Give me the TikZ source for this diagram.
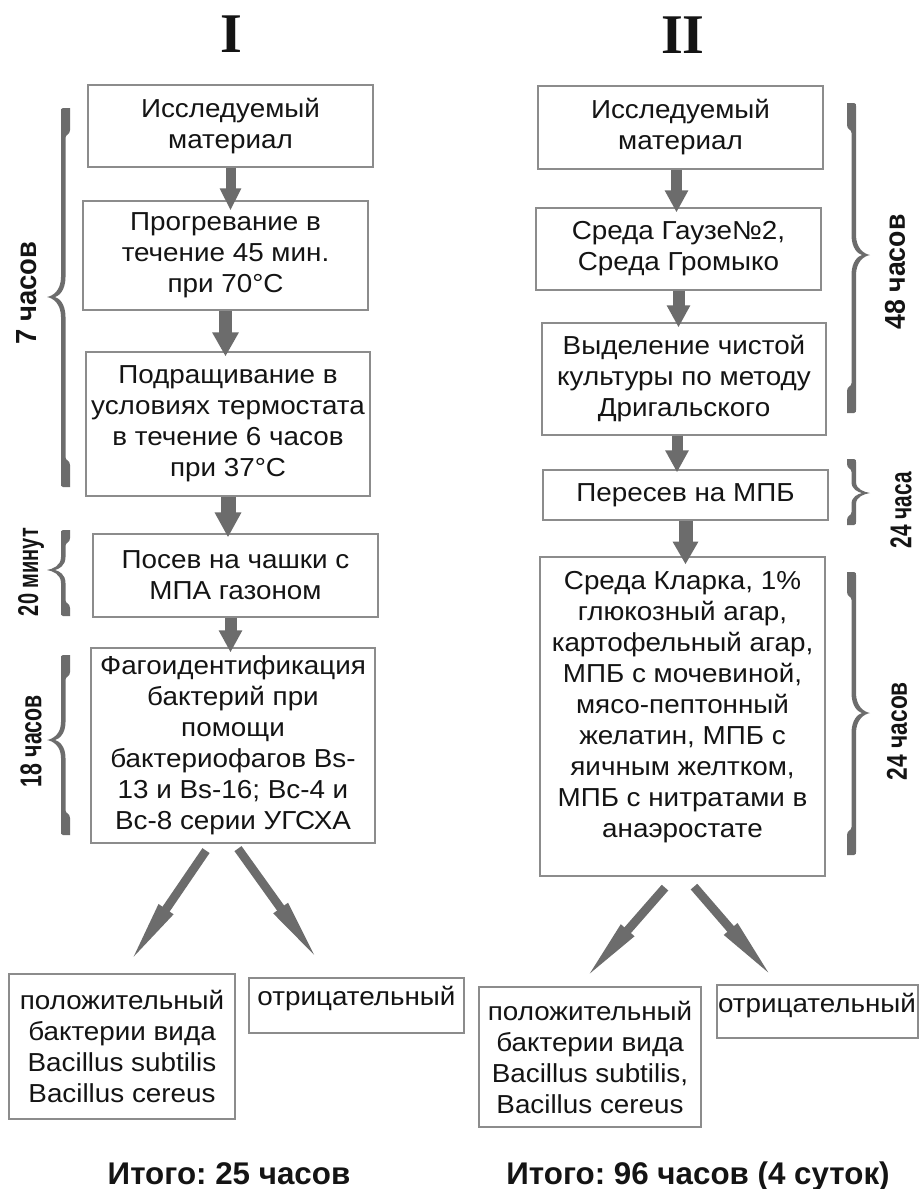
\documentclass[tikz,border=0pt]{standalone}
\usepackage{fontspec}
\setmainfont{Liberation Sans}
\newfontfamily\boxfont{Liberation Sans}[FakeStretch=1.07]
\newfontfamily\titlefont{Liberation Serif}
\usetikzlibrary{arrows.meta,calc}
\newdimen\PX \PX=0.75pt
\frenchspacing
\definecolor{agray}{RGB}{108,108,108}
\definecolor{bgray}{RGB}{140,140,140}
\definecolor{tblack}{RGB}{20,20,20}
% brace: #1 stem x, #2 top, #3 tip y, #4 bottom, #5 direction (1 = tip left, -1 = tip right), #6 end length, #7 tip curve
\newcommand\mybrace[7]{%
\fill[agray, shift={(#1,0)}, xscale=#5]
 (0,#2+3) .. controls (0,#2+1) .. (2,#2) -- (9,#2) -- (9,#2+#6-8)
 .. controls (9,#2+#6-3) and (4.5,#2+#6-4) .. (4.5,#2+#6)
 -- (4.5,#3-#7) .. controls (4.5,#3-#7/3) and (-2,#3-1) .. (-6,#3)
 .. controls (-2,#3+1) and (4.5,#3+#7/3) .. (4.5,#3+#7)
 -- (4.5,#4-#6) .. controls (4.5,#4-#6+4) and (9,#4-#6+3) .. (9,#4-#6+8)
 -- (9,#4) -- (2,#4) .. controls (0,#4-1) .. (0,#4-3)
 -- (0,#3+#7) .. controls (0,#3+#7/3) and (-8,#3+1) .. (-14,#3)
 .. controls (-8,#3-1) and (0,#3-#7/3) .. (0,#3-#7) -- cycle;}
\tikzset{
 box/.style={draw=bgray, line width=1.2\PX, align=center, inner sep=0pt, text=tblack,
   font=\boxfont\fontsize{19.5pt}{23.25pt}\selectfont},
 plain/.style={align=center, inner sep=0pt, text=tblack,
   font=\boxfont\fontsize{19.5pt}{23.25pt}\selectfont},
 varrow/.style n args={4}{draw=agray, line width=#1, -{Triangle[width=#2,length=#3]}, shorten >=#4},
 darrow/.style={draw=agray, line width=6.5pt, -{Triangle[width=11.5pt,length=52pt]}},
 tlabel/.style={rotate=90, inner sep=0pt, text=tblack, font=\bfseries},
 title/.style={inner sep=0pt, anchor=base, text=tblack, font=\titlefont\bfseries\fontsize{42pt}{48pt}\selectfont},
 total/.style={inner sep=0pt, anchor=base, text=tblack, font=\bfseries\fontsize{23.5pt}{27pt}\selectfont}
}
\begin{document}
\begin{tikzpicture}[x=0.75pt, y=-0.75pt]
\useasboundingbox (0,0) rectangle (919,1189);
\fill[white] (0,0) rectangle (919,1189);

% titles
\node[title] (t1) at (231,52) {I};
\node[title] (t2) at (683,53) {II};

% left column
\node[box, minimum width=285\PX, minimum height=82\PX] (b1) at (230.5,126) {Исследуемый\\материал};
\node[box, minimum width=285\PX, minimum height=109\PX] (b2) at (225.5,255.5) {Прогревание в\\течение 45 мин.\\при 70°C};
\node[box, minimum width=284\PX, minimum height=144\PX] (b3) at (228,424) {Подращивание в\\условиях термостата\\в течение 6 часов\\при 37°C};
\node[box, minimum width=285\PX, minimum height=83\PX] (b4) at (235.5,575.5) {Посев на чашки с\\МПА газоном};
\node[box, minimum width=284\PX, minimum height=195\PX] (b5) at (233,745.5) {Фагоидентификация\\бактерий при\\помощи\\бактериофагов Bs-\\13 и Bs-16; Bc-4 и\\Bc-8 серии УГСХА};
\node[box, minimum width=226\PX, minimum height=145\PX] (bl1) at (122,1046.5) {положительный\\бактерии вида\\Bacillus subtilis\\Bacillus cereus};
\node[box, minimum width=215\PX, minimum height=55\PX] (bl2) at (356.5,1005.5) {};
\node[plain, anchor=base] (bl2t) at (356.5,1005) {отрицательный};

% right column
\node[box, minimum width=285\PX, minimum height=83\PX] (r1) at (680.5,127.5) {Исследуемый\\материал};
\node[box, minimum width=285\PX, minimum height=82\PX] (r2) at (678.5,249) {Среда Гаузе№2,\\Среда Громыко};
\node[box, minimum width=284\PX, minimum height=112\PX] (r3) at (684,379) {Выделение чистой\\культуры по методу\\Дригальского};
\node[box, minimum width=285\PX, minimum height=50\PX] (r4) at (685.5,495) {Пересев на МПБ};
\node[box, minimum width=285\PX, minimum height=319\PX] (r5) at (682.5,716.5) {};
\node[plain, anchor=north] (r5t) at (682.5,571) {Среда Кларка, 1\%\\глюкозный агар,\\картофельный агар,\\МПБ с мочевиной,\\мясо-пептонный\\желатин, МПБ с\\яичным желтком,\\МПБ с нитратами в\\анаэростате};
\node[box, minimum width=222\PX, minimum height=140\PX] (br1) at (590,1057) {положительный\\бактерии вида\\Bacillus subtilis,\\Bacillus cereus};
\node[box, minimum width=201\PX, minimum height=53\PX] (br2) at (817.5,1011.5) {};
\node[plain, anchor=base] (br2t) at (817,1012) {отрицательный};

% vertical arrows
\draw[varrow={7.5pt}{15pt}{16.5pt}{-7.5pt}] (b1.south) -- (b1.south |- b2.north);
\draw[varrow={9.75pt}{18.75pt}{18pt}{-3.75pt}] (b2.south) -- (b2.south |- b3.north);
\draw[varrow={11.25pt}{18.75pt}{18.75pt}{-3pt}] (b3.south) -- (b3.south |- b4.north);
\draw[varrow={9pt}{16.5pt}{16.5pt}{-3.75pt}] ($(b4.south)+(-5,0)$) -- ($(b4.south |- b5.north)+(-5,0)$);
\draw[varrow={8.25pt}{16.5pt}{16.5pt}{-3.75pt}] ($(r1.south)+(-4,0)$) -- ($(r1.south |- r2.north)+(-4,0)$);
\draw[varrow={9pt}{16.5pt}{16.5pt}{-3.75pt}] (r2.south) -- (r2.south |- r3.north);
\draw[varrow={8.25pt}{16.5pt}{16.5pt}{-2.25pt}] ($(r3.south)+(-7,0)$) -- ($(r3.south |- r4.north)+(-7,0)$);
\draw[varrow={10.5pt}{18pt}{17pt}{-6pt}] (r4.south) -- (r4.south |- r5.north);

% diagonal arrows
\coordinate (d1s) at ($(b5.south)+(-27,7)$);
\coordinate (d1e) at ($(bl1.north)+(5,-7)$);
\coordinate (d2s) at ($(b5.south)+(5,5)$);
\coordinate (d2e) at ($(bl2.north)+(-35.5,-13)$);
\coordinate (d3s) at ($(r5.south)+(-17.5,11)$);
\coordinate (d3e) at ($(br1.north)+(-8,-4)$);
\coordinate (d4s) at ($(r5.south)+(11.5,10)$);
\coordinate (d4e) at ($(br2.north)+(-41.5,-3)$);
\draw[darrow] (d1s) -- (d1e);
\draw[darrow] (d2s) -- (d2e);
\draw[darrow] (d3s) -- (d3e);
\draw[darrow] (d4s) -- (d4e);

% braces
\mybrace{61}{108}{297}{487}{1}{30}{20}
\mybrace{61}{530}{570}{616}{1}{16}{13}
\mybrace{61}{655}{740}{835}{1}{25}{18}
\mybrace{856}{103}{255}{413}{-1}{30}{20}
\mybrace{856}{459}{493}{525}{-1}{13}{11}
\mybrace{856}{572}{713}{855}{-1}{28}{20}

% brace labels
\node[tlabel] (l7) at (27,293) {\resizebox{77.25pt}{15pt}{7 часов}};
\node[tlabel] (l20) at (31,572) {\resizebox{66pt}{15pt}{20 минут}};
\node[tlabel] (l18) at (31,741) {\resizebox{69pt}{15.75pt}{18 часов}};
\node[tlabel] (l48) at (895,272) {\resizebox{86.25pt}{15pt}{48 часов}};
\node[tlabel] (l24a) at (901,510) {\resizebox{57pt}{15.75pt}{24 часа}};
\node[tlabel] (l24b) at (897,731) {\resizebox{73.5pt}{15pt}{24 часов}};

% totals
\node[total] (tot1) at (229,1184) {Итого: 25 часов};
\node[total] (tot2) at (698,1184) {Итого: 96 часов (4 суток)};
\end{tikzpicture}
\end{document}
